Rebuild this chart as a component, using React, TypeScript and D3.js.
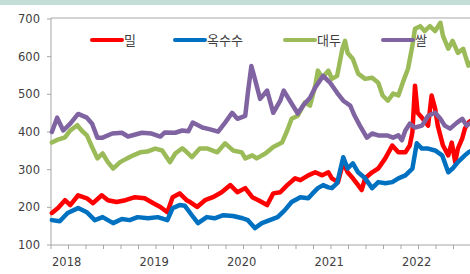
import React from 'react';
import * as d3 from 'd3';

type Pt = [number, number];

// decimal year, index value
const wheat: Pt[] = [
  [2018.01, 185], [2018.08, 198], [2018.16, 219], [2018.22, 206], [2018.31, 232], [2018.41, 224],
  [2018.48, 211], [2018.58, 232], [2018.65, 219], [2018.75, 214], [2018.85, 219], [2018.96, 227],
  [2019.07, 224], [2019.17, 211], [2019.25, 201], [2019.33, 187], [2019.39, 227], [2019.47, 237],
  [2019.55, 219], [2019.59, 214], [2019.67, 201], [2019.76, 219], [2019.85, 227], [2019.95, 240],
  [2020.05, 259], [2020.13, 240], [2020.22, 251], [2020.30, 227], [2020.37, 219], [2020.47, 206],
  [2020.54, 237], [2020.62, 240], [2020.70, 259], [2020.79, 277], [2020.85, 272], [2020.94, 285],
  [2021.02, 293], [2021.10, 285], [2021.17, 293], [2021.21, 277], [2021.28, 267], [2021.34, 320],
  [2021.39, 293], [2021.45, 277], [2021.51, 259], [2021.55, 246], [2021.59, 277], [2021.67, 293],
  [2021.74, 303], [2021.82, 330], [2021.90, 364], [2021.97, 346], [2022.05, 346], [2022.10, 364],
  [2022.13, 399], [2022.16, 523], [2022.19, 451], [2022.25, 435], [2022.31, 417], [2022.35, 497],
  [2022.39, 462], [2022.42, 417], [2022.48, 364], [2022.54, 338], [2022.58, 372], [2022.62, 320],
  [2022.65, 356], [2022.70, 383], [2022.73, 409], [2022.77, 425], [2022.80, 430],
];

const corn: Pt[] = [
  [2018.01, 166], [2018.10, 163], [2018.19, 185], [2018.31, 198], [2018.41, 187], [2018.50, 166],
  [2018.59, 174], [2018.71, 158], [2018.81, 169], [2018.90, 166], [2018.99, 174], [2019.11, 171],
  [2019.22, 174], [2019.33, 166], [2019.39, 198], [2019.47, 206], [2019.53, 204], [2019.61, 179],
  [2019.68, 158], [2019.78, 174], [2019.87, 171], [2019.97, 179], [2020.08, 177], [2020.19, 171],
  [2020.25, 166], [2020.33, 145], [2020.41, 158], [2020.50, 166], [2020.59, 174], [2020.67, 192],
  [2020.75, 214], [2020.85, 227], [2020.94, 224], [2020.99, 237], [2021.05, 251], [2021.11, 259],
  [2021.17, 253], [2021.21, 251], [2021.27, 264], [2021.34, 333], [2021.39, 303], [2021.45, 317],
  [2021.51, 293], [2021.59, 277], [2021.67, 251], [2021.74, 267], [2021.82, 264], [2021.90, 267],
  [2021.97, 277], [2022.05, 285], [2022.13, 303], [2022.18, 370], [2022.24, 356], [2022.31, 356],
  [2022.39, 351], [2022.47, 338], [2022.54, 293], [2022.59, 303], [2022.65, 320], [2022.73, 338],
  [2022.77, 346], [2022.80, 350],
];

const soybean: Pt[] = [
  [2018.01, 372], [2018.08, 380], [2018.16, 386], [2018.22, 404], [2018.30, 418], [2018.35, 404],
  [2018.41, 391], [2018.47, 360], [2018.53, 330], [2018.59, 343], [2018.65, 320], [2018.71, 303],
  [2018.79, 320], [2018.87, 330], [2018.94, 338], [2019.02, 346], [2019.10, 348], [2019.19, 356],
  [2019.27, 351], [2019.36, 320], [2019.42, 343], [2019.50, 357], [2019.53, 351], [2019.61, 333],
  [2019.70, 356], [2019.79, 356], [2019.90, 346], [2019.99, 370], [2020.08, 351], [2020.18, 346],
  [2020.22, 330], [2020.30, 338], [2020.35, 330], [2020.45, 343], [2020.54, 360], [2020.64, 372],
  [2020.70, 404], [2020.75, 435], [2020.82, 443], [2020.90, 478], [2020.96, 470], [2021.02, 523],
  [2021.05, 563], [2021.10, 544], [2021.17, 563], [2021.21, 541], [2021.27, 549], [2021.33, 621],
  [2021.36, 642], [2021.39, 610], [2021.45, 594], [2021.51, 555], [2021.59, 541], [2021.67, 544],
  [2021.74, 531], [2021.79, 497], [2021.85, 483], [2021.91, 502], [2021.97, 497], [2022.02, 531],
  [2022.08, 568], [2022.13, 629], [2022.16, 674], [2022.22, 681], [2022.27, 668], [2022.33, 681],
  [2022.39, 668], [2022.45, 690], [2022.48, 655], [2022.54, 621], [2022.59, 642], [2022.65, 610],
  [2022.71, 621], [2022.77, 576], [2022.80, 585],
];

const rice: Pt[] = [
  [2018.01, 400], [2018.07, 438], [2018.14, 404], [2018.22, 422], [2018.31, 448], [2018.41, 438],
  [2018.47, 422], [2018.53, 385], [2018.59, 385], [2018.70, 396], [2018.81, 398], [2018.88, 388],
  [2019.04, 398], [2019.15, 396], [2019.25, 388], [2019.30, 399], [2019.42, 398], [2019.50, 404],
  [2019.57, 402], [2019.62, 425], [2019.73, 412], [2019.82, 407], [2019.91, 401], [2019.99, 425],
  [2020.07, 451], [2020.13, 435], [2020.22, 443], [2020.25, 504], [2020.29, 575], [2020.33, 541],
  [2020.39, 488], [2020.47, 510], [2020.54, 451], [2020.62, 483], [2020.66, 510], [2020.73, 483],
  [2020.82, 449], [2020.88, 470], [2020.96, 491], [2021.02, 518], [2021.11, 549], [2021.17, 535],
  [2021.19, 531], [2021.27, 504], [2021.34, 483], [2021.42, 470], [2021.47, 443], [2021.53, 417],
  [2021.61, 385], [2021.67, 396], [2021.74, 391], [2021.84, 391], [2021.91, 385], [2021.97, 391],
  [2022.01, 378], [2022.05, 404], [2022.10, 422], [2022.16, 412], [2022.24, 417], [2022.31, 443],
  [2022.39, 451], [2022.45, 435], [2022.50, 417], [2022.56, 409], [2022.64, 425], [2022.70, 435],
  [2022.75, 417], [2022.80, 425],
];

const seriesNames = ['밀', '옥수수', '대두', '쌀'];
const seriesData = [wheat, corn, soybean, rice];
const yTickValues = [100, 200, 300, 400, 500, 600, 700];
const yearLabels = [2018, 2019, 2020, 2021, 2022];

const colors = ['#ff0000', '#0070c0', '#9bbb59', '#8064a2'];
const legendX = [92, 175, 285, 383];

const App: React.FC = () => {
  const width = 470;
  const height = 274;
  const left = 51;
  const top = 19;
  const bottom = 245;
  const pxPerYear = 87.5;
  const axisColor = '#a6a6a6';
  const textColor = '#404040';

  const xScale = d3.scaleLinear().domain([2018, 2023]).range([left, left + 5 * pxPerYear]);
  const yScale = d3.scaleLinear().domain([100, 700]).range([bottom, top]);

  const line = d3.line<Pt>().x(d => xScale(d[0])).y(d => yScale(d[1])).curve(d3.curveLinear);

  const xTicks = d3.range(0, 26).map(i => 2018 + i * 0.2);

  return (
    <svg width={width} height={height} style={{position: 'absolute', left: 0, top: 0, background: '#fff'}}>
      <rect x={0} y={0} width={width} height={5} fill="#c3ddd7"/>
      {/* top border */}
      <line x1={left} x2={width} y1={top - 1} y2={top - 1} stroke={axisColor}/>
      {/* y axis */}
      <line x1={left} x2={left} y1={top - 1} y2={bottom} stroke={axisColor}/>
      {yTickValues.map(v => (
        <g key={v} transform={`translate(0, ${yScale(v)})`}>
          <line x1={left - 4} x2={left} stroke={axisColor}/>
          <text x={40} dy="0.35em" textAnchor="end" fontFamily="DejaVu Sans" fontSize={11.5} fill={textColor}>{v}</text>
        </g>
      ))}
      {/* x axis */}
      <line x1={left} x2={width} y1={bottom} y2={bottom} stroke={axisColor}/>
      {xTicks.map(t => (
        <line key={t} x1={xScale(t)} x2={xScale(t)} y1={bottom} y2={bottom + 4} stroke={axisColor}/>
      ))}
      {yearLabels.map(yr => (
        <text key={yr} x={xScale(yr) + 1} y={262} dy="0.35em" fontFamily="DejaVu Sans" fontSize={11.5} fill={textColor}>{yr}</text>
      ))}
      {/* series */}
      <g>
        {seriesData.map((s, i) => (
          <path key={i} d={line(s) || ''} fill="none" stroke={colors[i]} strokeWidth={4.5} strokeLinejoin="round" strokeLinecap="round"/>
        ))}
      </g>
      {/* legend */}
      {seriesNames.map((name, i) => (
        <g key={name} transform={`translate(${legendX[i]}, 40)`}>
          <line x1={0} x2={30} stroke={colors[i]} strokeWidth={4} strokeLinecap="round"/>
          <text x={32} dy="0.35em" fontFamily="Noto Sans CJK KR" fontSize={13} fill={textColor}>{name}</text>
        </g>
      ))}
    </svg>
  );
};

export default App;
